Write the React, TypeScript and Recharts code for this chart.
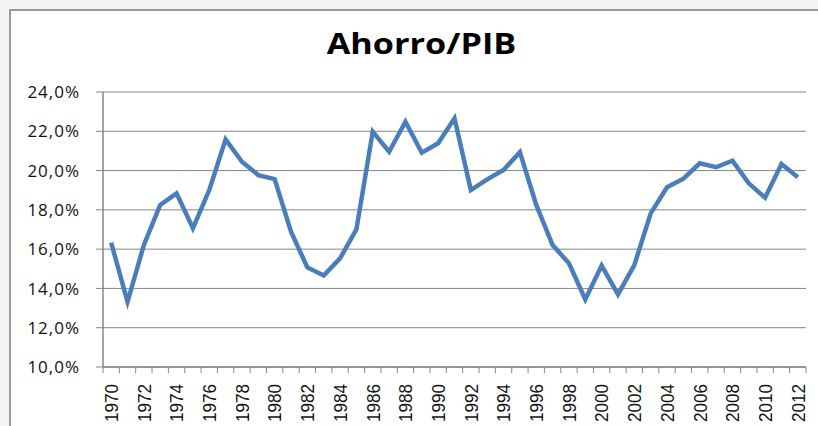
import React from "react";
import { LineChart, Line, XAxis, YAxis, CartesianGrid } from "recharts";

const years = [
  1970, 1971, 1972, 1973, 1974, 1975, 1976, 1977, 1978, 1979,
  1980, 1981, 1982, 1983, 1984, 1985, 1986, 1987, 1988, 1989,
  1990, 1991, 1992, 1993, 1994, 1995, 1996, 1997, 1998, 1999,
  2000, 2001, 2002, 2003, 2004, 2005, 2006, 2007, 2008, 2009,
  2010, 2011, 2012,
];

// ahorro como % del PIB
const ahorro = [
  16.33, 13.32, 16.21, 18.25, 18.84, 17.06, 19.01, 21.59, 20.45, 19.77,
  19.57, 16.89, 15.07, 14.66, 15.53, 17.01, 21.98, 20.96, 22.49, 20.91,
  21.39, 22.66, 19.01, 19.55, 20.03, 20.94, 18.25, 16.21, 15.28, 13.44,
  15.16, 13.7, 15.19, 17.82, 19.15, 19.59, 20.37, 20.17, 20.5, 19.35,
  18.62, 20.33, 19.66,
];

const yTicks = [10, 12, 14, 16, 18, 20, 22, 24];

const data = years.map((year, i) => ({ year, ahorro: ahorro[i] }));

const AXIS_COLOR = "#868686";

const fmtPct = (v: number) => v.toFixed(1).replace(".", ",") + "%";

function YearTick(props: any) {
  const { x, y, payload, index } = props;
  const half = payload?.offset || 8.17;
  const isLast = index === years.length - 1;
  const ty = y + 9;
  return (
    <g>
      <line x1={x - half} x2={x - half} y1={y - 8} y2={y - 2} stroke={AXIS_COLOR} strokeWidth={1} />
      {isLast && (
        <line x1={x + half} x2={x + half} y1={y - 8} y2={y - 2} stroke={AXIS_COLOR} strokeWidth={1} />
      )}
      {payload.value % 2 === 0 && (
        <text
          x={x}
          y={ty}
          dy="0.36em"
          transform={`rotate(-90 ${x} ${ty})`}
          textAnchor="end"
          fontFamily="Liberation Sans, Arial, sans-serif"
          fontSize={19}
          textLength={38}
          lengthAdjust="spacingAndGlyphs"
          fill="#111"
        >
          {payload.value}
        </text>
      )}
    </g>
  );
}

function PctTick(props: any) {
  const { x, y, payload } = props;
  return (
    <text
      x={x}
      y={y}
      dy="0.36em"
      textAnchor="end"
      fontFamily="'Open Sans', sans-serif"
      fontSize={17}
      letterSpacing={1}
      fill="#111"
    >
      {fmtPct(payload.value)}
    </text>
  );
}

export default function App() {
  return (
    <div
      style={{
        position: "fixed",
        left: 0,
        top: 0,
        width: 818,
        height: 426,
        background: "#f5f5f5",
        overflow: "hidden",
      }}
    >
      <div
        style={{
          position: "absolute",
          left: 9,
          top: 9,
          width: 830,
          height: 430,
          background: "#fff",
          borderLeft: "2px solid #9a9a9a",
          borderTop: "2px solid #9a9a9a",
        }}
      />
      <div
        style={{
          position: "absolute",
          left: 0,
          width: 843,
          top: 23,
          textAlign: "center",
          fontFamily: "'Open Sans', sans-serif",
          fontWeight: 700,
          fontSize: 29,
          lineHeight: "40px",
          color: "#000",
          transform: "scaleX(1.18)",
          transformOrigin: "421.5px 0",
        }}
      >
        Ahorro/PIB
      </div>
      <div style={{ position: "absolute", left: 0, top: 0 }}>
        <LineChart
          width={818}
          height={426}
          data={data}
          margin={{ top: 92, right: 12, left: 0, bottom: 0 }}
        >
          <CartesianGrid vertical={false} stroke={AXIS_COLOR} strokeWidth={1} />
          <XAxis
            dataKey="year"
            type="category"
            scale="band"
            interval={0}
            height={59}
            axisLine={{ stroke: AXIS_COLOR, strokeWidth: 1.5 }}
            tickLine={false}
            tick={<YearTick />}
          />
          <YAxis
            domain={[10, 24]}
            ticks={yTicks}
            width={103}
            axisLine={{ stroke: AXIS_COLOR, strokeWidth: 1.5 }}
            tickLine={{ stroke: AXIS_COLOR }}
            tickSize={7}
            tickMargin={16}
            tick={<PctTick />}
          />
          <Line
            type="linear"
            dataKey="ahorro"
            stroke="#4a7ebb"
            strokeWidth={4.5}
            dot={false}
            isAnimationActive={false}
          />
        </LineChart>
      </div>
    </div>
  );
}
